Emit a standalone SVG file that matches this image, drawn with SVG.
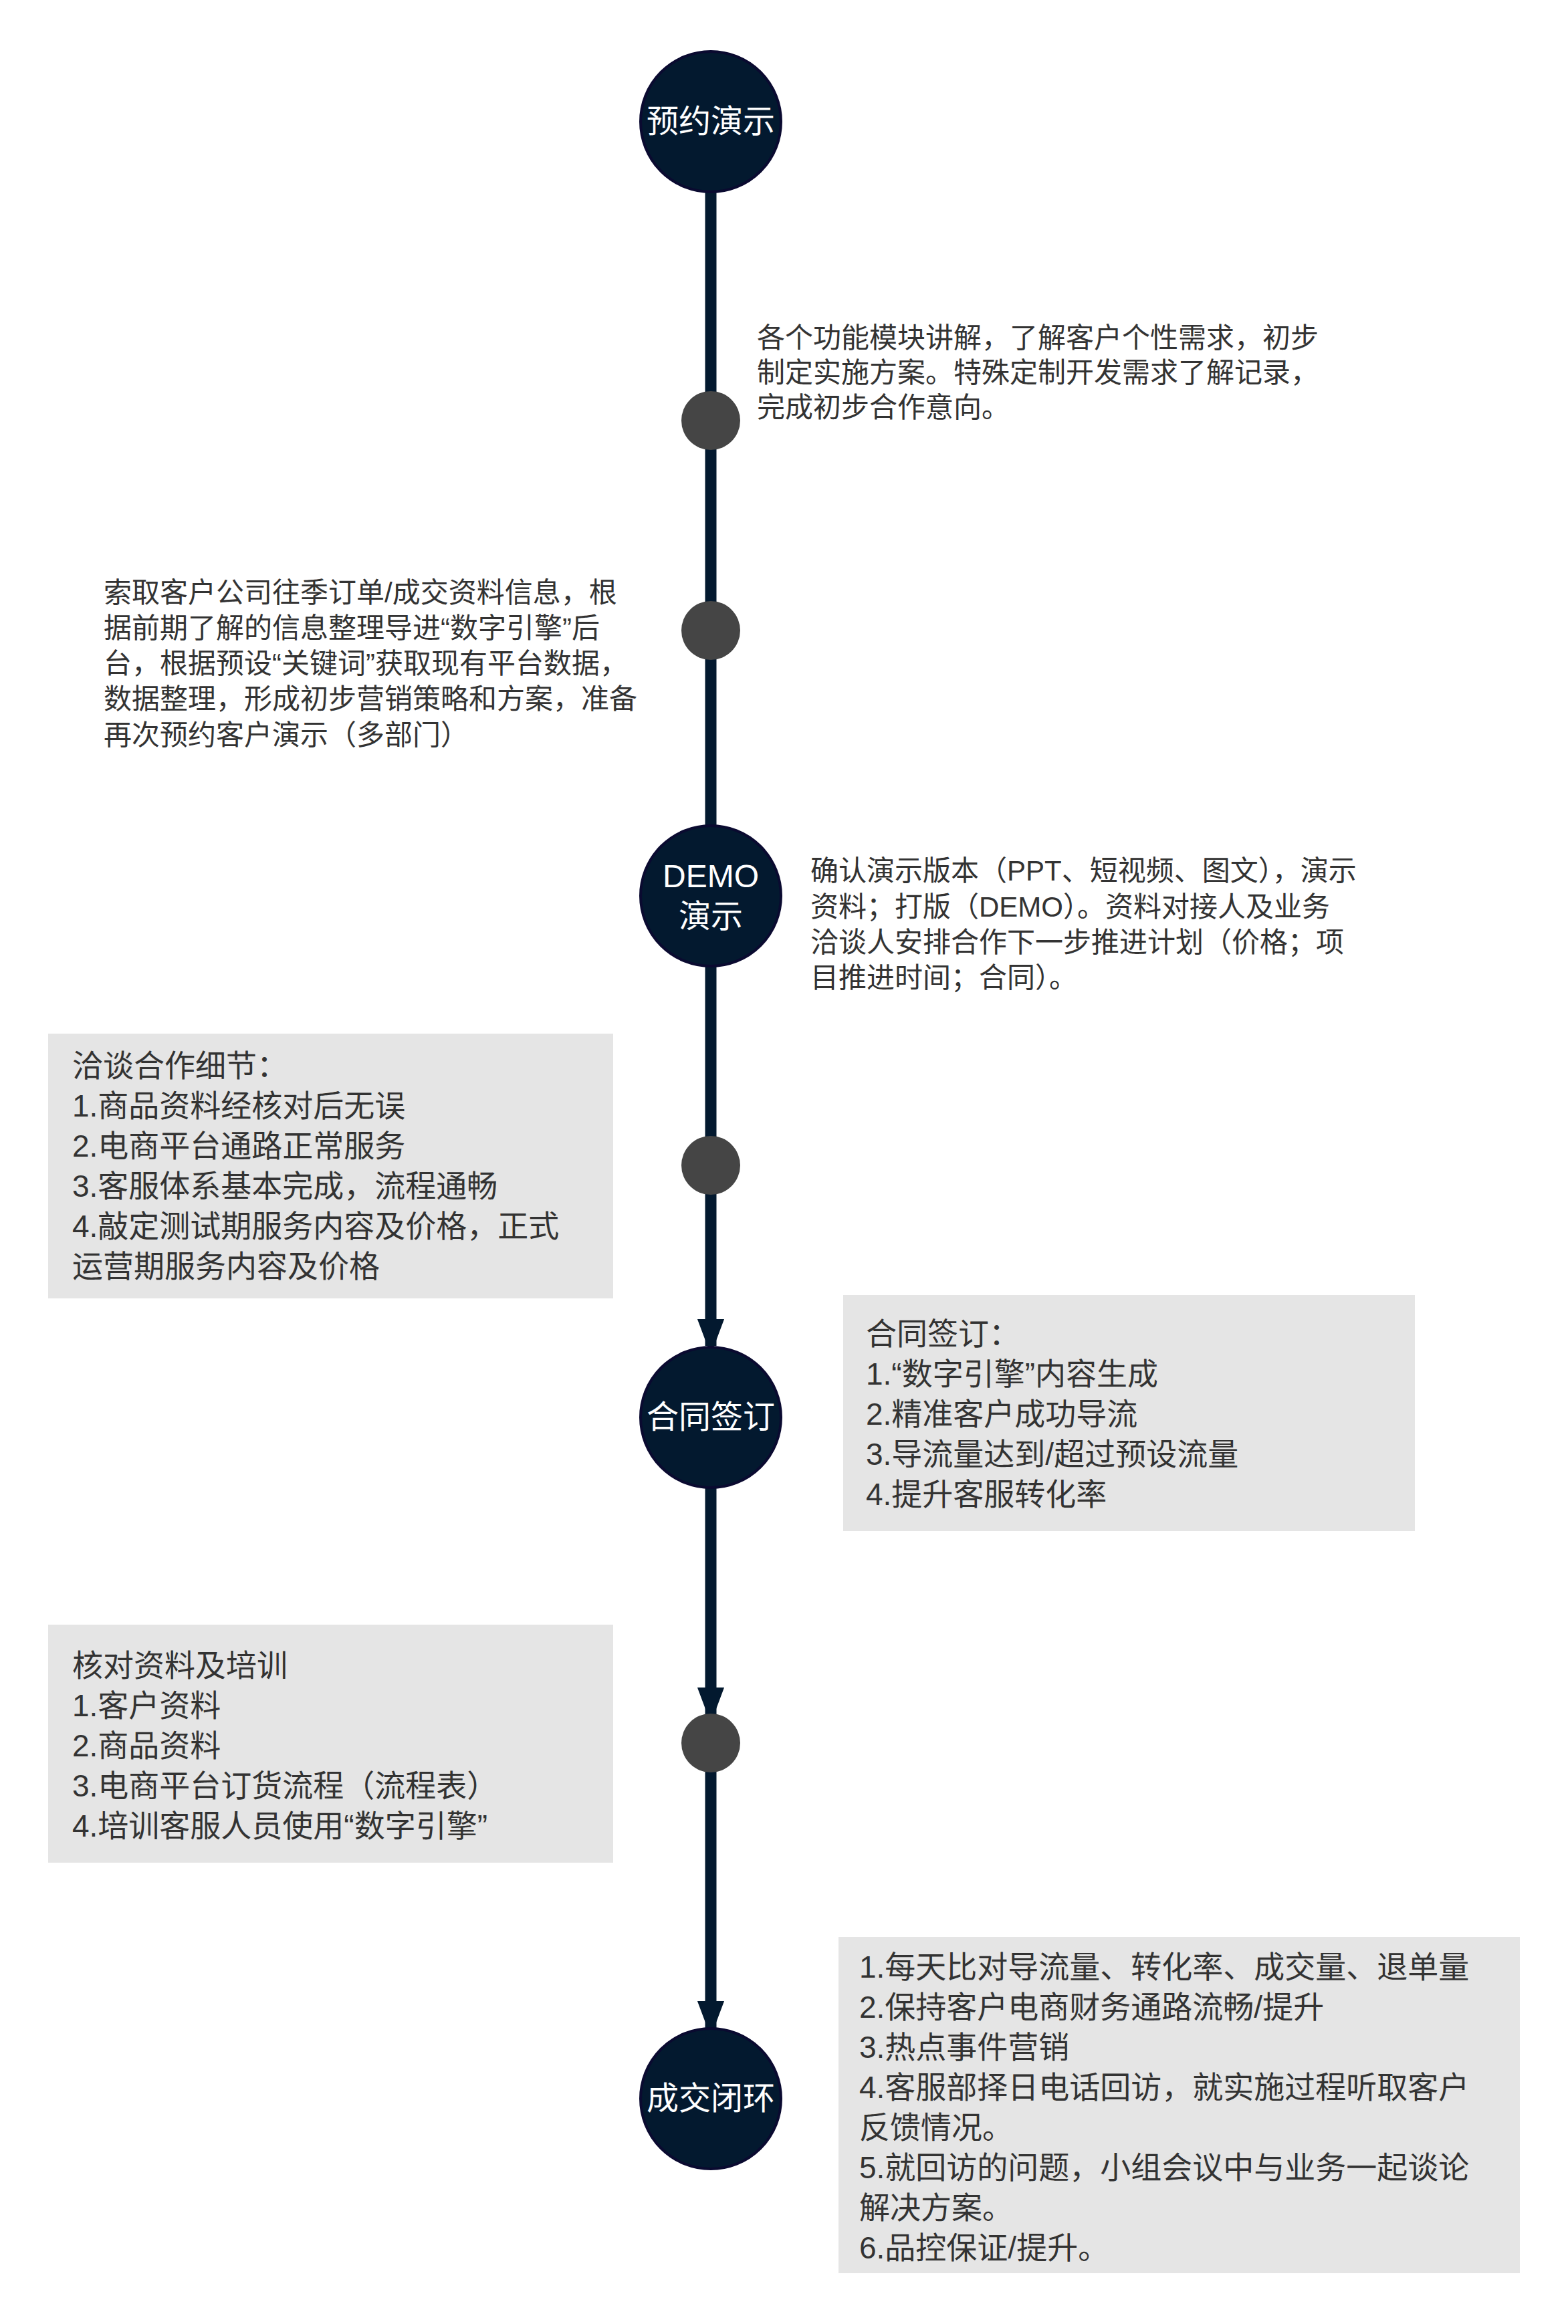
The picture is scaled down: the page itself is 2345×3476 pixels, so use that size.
<svg xmlns="http://www.w3.org/2000/svg" width="2345" height="3476" viewBox="0 0 2345 3476">
<style>
text{font-family:"Liberation Sans","Noto Sans CJK SC",sans-serif}
.big{fill:#03192f;stroke:#0a0a30;stroke-width:4}
.lbl{fill:#fff;font-size:48px;text-anchor:middle}
.dot{fill:#454545}
.box{fill:#e5e5e5}
.t{fill:#333;font-size:42px}
.bt{fill:#333;font-size:46px}
.ln{stroke:#03192f;stroke-width:17;fill:none}
</style>
<defs><marker id="ah" markerUnits="userSpaceOnUse" markerWidth="54" markerHeight="72" refX="54" refY="27" orient="auto" viewBox="0 0 72 54"><path d="M0,0 L72,27 L0,54 Z" fill="#03192f"/></marker></defs>
<rect width="2345" height="3476" fill="#fff"/>
<g id="connectors">
<line class="ln" x1="1063" y1="288" x2="1063" y2="1234"/>
<line class="ln" x1="1063" y1="1446" x2="1063" y2="2013" marker-end="url(#ah)"/>
<line class="ln" x1="1063" y1="2226" x2="1063" y2="2564" marker-end="url(#ah)"/>
<line class="ln" x1="1063" y1="2600" x2="1063" y2="3033" marker-end="url(#ah)"/>
</g>
<g id="n1"><circle class="big" cx="1063" cy="182" r="105"/><text class="lbl" x="1063" y="198">预约演示</text></g>
<g id="d1"><circle class="dot" cx="1063" cy="629" r="44"/></g>
<g id="t1"><text class="t" x="1132" y="520">各个功能模块讲解，了解客户个性需求，初步</text><text class="t" x="1132" y="572">制定实施方案。特殊定制开发需求了解记录，</text><text class="t" x="1132" y="624">完成初步合作意向。</text></g>
<g id="d2"><circle class="dot" cx="1063" cy="943" r="44"/></g>
<g id="t2"><text class="t" x="155" y="901">索取客户公司往季订单/成交资料信息，根</text><text class="t" x="155" y="954">据前期了解的信息整理导进“数字引擎”后</text><text class="t" x="155" y="1007">台，根据预设“关键词”获取现有平台数据，</text><text class="t" x="155" y="1060">数据整理，形成初步营销策略和方案，准备</text><text class="t" x="155" y="1114">再次预约客户演示（多部门）</text></g>
<g id="n2"><circle class="big" cx="1063" cy="1340" r="105"/><text class="lbl" x="1063" y="1327">DEMO</text><text class="lbl" x="1063" y="1387">演示</text></g>
<g id="t3"><text class="t" x="1212" y="1317">确认演示版本（PPT、短视频、图文），演示</text><text class="t" x="1212" y="1371">资料；打版（DEMO）。资料对接人及业务</text><text class="t" x="1212" y="1424">洽谈人安排合作下一步推进计划（价格；项</text><text class="t" x="1212" y="1477">目推进时间；合同）。</text></g>
<g id="b1"><rect class="box" x="72" y="1546" width="845" height="396"/><text class="bt" x="108" y="1610">洽谈合作细节：</text><text class="bt" x="108" y="1670">1.商品资料经核对后无误</text><text class="bt" x="108" y="1730">2.电商平台通路正常服务</text><text class="bt" x="108" y="1790">3.客服体系基本完成，流程通畅</text><text class="bt" x="108" y="1850">4.敲定测试期服务内容及价格，正式</text><text class="bt" x="108" y="1910">运营期服务内容及价格</text></g>
<g id="d3"><circle class="dot" cx="1063" cy="1743" r="44"/></g>
<g id="n3"><circle class="big" cx="1063" cy="2120" r="105"/><text class="lbl" x="1063" y="2136">合同签订</text></g>
<g id="b2"><rect class="box" x="1261" y="1937" width="855" height="353"/><text class="bt" x="1295" y="2011">合同签订：</text><text class="bt" x="1295" y="2071">1.“数字引擎”内容生成</text><text class="bt" x="1295" y="2131">2.精准客户成功导流</text><text class="bt" x="1295" y="2191">3.导流量达到/超过预设流量</text><text class="bt" x="1295" y="2251">4.提升客服转化率</text></g>
<g id="b3"><rect class="box" x="72" y="2430" width="845" height="356"/><text class="bt" x="108" y="2507">核对资料及培训</text><text class="bt" x="108" y="2567">1.客户资料</text><text class="bt" x="108" y="2627">2.商品资料</text><text class="bt" x="108" y="2687">3.电商平台订货流程（流程表）</text><text class="bt" x="108" y="2747">4.培训客服人员使用“数字引擎”</text></g>
<g id="d4"><circle class="dot" cx="1063" cy="2607" r="44"/></g>
<g id="n4"><circle class="big" cx="1063" cy="3139" r="105"/><text class="lbl" x="1063" y="3155">成交闭环</text></g>
<g id="b4"><rect class="box" x="1254" y="2897" width="1019" height="503"/><text class="bt" x="1285" y="2958">1.每天比对导流量、转化率、成交量、退单量</text><text class="bt" x="1285" y="3018">2.保持客户电商财务通路流畅/提升</text><text class="bt" x="1285" y="3078">3.热点事件营销</text><text class="bt" x="1285" y="3138">4.客服部择日电话回访，就实施过程听取客户</text><text class="bt" x="1285" y="3198">反馈情况。</text><text class="bt" x="1285" y="3258">5.就回访的问题，小组会议中与业务一起谈论</text><text class="bt" x="1285" y="3318">解决方案。</text><text class="bt" x="1285" y="3378">6.品控保证/提升。</text></g>
</svg>
